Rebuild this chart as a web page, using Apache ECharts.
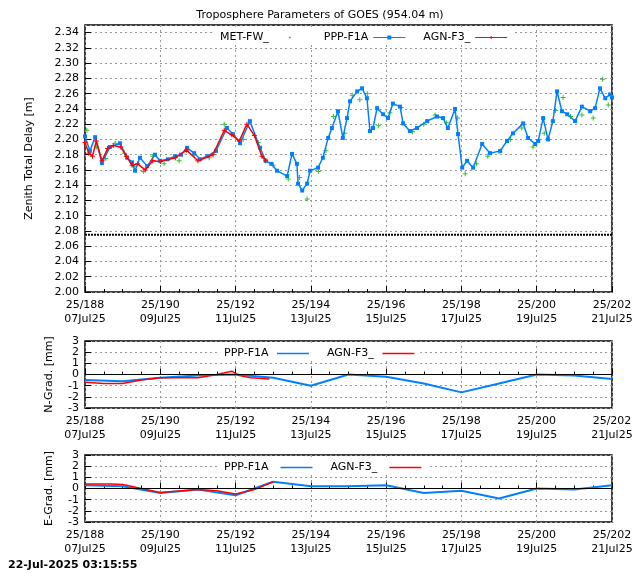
<!DOCTYPE html>
<html><head><meta charset="utf-8">
<script src="https://cdn.jsdelivr.net/npm/echarts@6/dist/echarts.min.js"></script>
<style>html,body{margin:0;padding:0;background:#fff}#c{width:640px;height:576px}</style>
</head><body><div id="c"></div>
<script>
const xTickLabels = {188:'25/188\n07Jul25',190:'25/190\n09Jul25',192:'25/192\n11Jul25',194:'25/194\n13Jul25',196:'25/196\n15Jul25',198:'25/198\n17Jul25',200:'25/200\n19Jul25',202:'25/202\n21Jul25'};
const pppDays = [188.0,188.13,188.27,188.45,188.66,188.93,189.12,189.25,189.33,189.46,189.65,189.86,189.99,190.2,190.39,190.55,190.71,190.9,191.06,191.25,191.48,191.77,191.93,192.12,192.38,192.65,192.8,192.95,193.10,193.37,193.50,193.63,193.66,193.77,193.90,193.98,194.19,194.32,194.46,194.56,194.72,194.85,194.96,195.04,195.23,195.36,195.49,195.57,195.65,195.76,195.92,196.05,196.18,196.37,196.45,196.63,196.82,197.09,197.35,197.51,197.64,197.83,197.91,198.02,198.15,198.31,198.55,198.76,199.03,199.21,199.37,199.64,199.77,199.96,200.04,200.17,200.30,200.43,200.54,200.67,200.81,201.02,201.20,201.42,201.55,201.68,201.82,201.95,202.0];
const pppZtd = [2.204,2.185,2.203,2.169,2.19,2.195,2.176,2.17,2.159,2.176,2.165,2.18,2.172,2.174,2.178,2.18,2.189,2.182,2.174,2.178,2.185,2.215,2.207,2.195,2.224,2.189,2.172,2.168,2.159,2.152,2.181,2.168,2.142,2.133,2.142,2.159,2.163,2.176,2.202,2.215,2.237,2.202,2.228,2.25,2.263,2.267,2.254,2.211,2.215,2.241,2.233,2.228,2.247,2.243,2.221,2.211,2.215,2.224,2.23,2.228,2.215,2.24,2.207,2.163,2.172,2.163,2.194,2.182,2.185,2.198,2.208,2.221,2.202,2.194,2.198,2.228,2.2,2.224,2.263,2.237,2.233,2.224,2.243,2.237,2.241,2.267,2.254,2.259,2.255];
const agnDays = [188.0,188.1,188.2,188.3,188.45,188.6,188.75,188.95,189.1,189.25,189.4,189.6,189.8,190.0,190.4,190.7,191.0,191.4,191.7,191.9,192.1,192.3,192.5,192.7,192.8];
const agnZtd = [2.196,2.182,2.178,2.198,2.172,2.188,2.192,2.19,2.178,2.166,2.168,2.16,2.172,2.171,2.176,2.186,2.172,2.18,2.212,2.206,2.198,2.22,2.205,2.178,2.172];
const metDays = [188.05,188.3,188.55,188.8,189.05,189.3,189.55,189.8,190.1,190.5,190.9,191.3,191.7,192.2,192.6,193.0,193.4,193.7,193.9,194.2,194.4,194.6,194.9,195.1,195.3,195.5,195.8,196.1,196.4,196.7,197.0,197.3,197.6,197.9,198.1,198.4,198.7,199.0,199.3,199.6,199.9,200.2,200.5,200.7,200.9,201.2,201.5,201.75,201.9];
const metZtd = [2.212,2.19,2.175,2.195,2.182,2.165,2.158,2.178,2.168,2.172,2.18,2.176,2.22,2.2,2.196,2.166,2.148,2.15,2.122,2.158,2.185,2.23,2.208,2.258,2.252,2.26,2.218,2.235,2.242,2.21,2.22,2.232,2.222,2.228,2.155,2.168,2.178,2.184,2.2,2.215,2.19,2.208,2.238,2.255,2.23,2.232,2.228,2.279,2.245];
const refLevelDays = [188,202];
const refLevel = [2.075,2.075];
const nDays = [188,189,190,191,192,193,194,195,196,197,198,199,200,201,202];
const pppN = [-0.5,-0.6,-0.3,-0.1,0.0,-0.3,-1.0,0.0,-0.2,-0.8,-1.6,-0.8,0.0,-0.1,-0.4];
const agnNDays = [188,188.5,189,189.5,190,191,191.5,191.9,192.1,192.4,192.9];
const agnN = [-0.7,-0.8,-0.8,-0.5,-0.3,-0.3,0.0,0.3,-0.1,-0.3,-0.4];
const pppE = [0.3,0.2,-0.4,-0.1,-0.6,0.6,0.2,0.2,0.3,-0.4,-0.2,-0.9,0.0,-0.1,0.3];
const agnEDays = [188,188.7,189,189.5,190,191,191.5,192,192.5,193];
const agnE = [0.4,0.4,0.35,0.0,-0.35,-0.1,-0.2,-0.5,-0.1,0.6];

const zip = (a,b)=>a.map((v,i)=>[v,b[i]]);
const F = 'DejaVu Sans';
const grids = [
  {left:85,right:28,top:25,height:267},
  {left:85,right:28,top:341,height:67},
  {left:85,right:28,top:455,height:67}
].map(g=>Object.assign(g,{show:true,borderColor:'#000',borderWidth:1.5,containLabel:false}));
function xAx(i){return {type:'value',gridIndex:i,min:188,max:202,interval:2,
  axisLine:{show:false},axisTick:{inside:true,length:6,lineStyle:{color:'#000'}},
  minorTick:{show:true,splitNumber:4,length:3,lineStyle:{color:'#000'}},
  splitLine:{show:true,lineStyle:{color:'#999',type:[2,3]}},
  axisLabel:{color:'#000',fontFamily:F,fontSize:11,lineHeight:14,margin:6,formatter:v=>xTickLabels[v]||''}};}
function yAx(i,min,max,intv,name,gap,fmt){return {type:'value',gridIndex:i,min,max,interval:intv,
  name,nameLocation:'middle',nameGap:gap,nameTextStyle:{color:'#000',fontFamily:F,fontSize:11},
  axisLine:{show:false},axisTick:{inside:true,length:6,lineStyle:{color:'#000'}},
  splitLine:{show:true,lineStyle:{color:'#999',type:[2,3]}},
  axisLabel:{color:'#000',fontFamily:F,fontSize:11,margin:6,showMaxLabel:max!==2.35,formatter:fmt}};}
const zeroLine = {silent:true,symbol:'none',label:{show:false},lineStyle:{color:'#000',type:'solid',width:1},data:[{yAxis:0}]};
const lineIcon = 'path://M0,0L0,0M32,10L32,10M0,4.2H32V5.8H0Z';
const sqIcon = 'path://M0,4.5H14V3H18V4.5H32V5.5H18V7H14V5.5H0Z';
const plusIcon = 'path://M0,4.5H15.5V3.5H16.5V4.5H32V5.5H16.5V6.5H15.5V5.5H0Z';
const metIcon = 'path://M0,0L0,0M32,10L32,10M15.5,4H16.5V4.5H17V5.5H16.5V6H15.5V5.5H15V4.5H15.5Z';
const lg = (top,left,data)=>({top,left,itemWidth:32,itemHeight:10,align:'right',itemGap:18,textStyle:{fontFamily:F,fontSize:11,color:'#000'},backgroundColor:'#fff',padding:[2,6],data});
const option = {
  animation:false,
  title:{text:'Troposphere Parameters of GOES (954.04 m)',left:'center',top:5,textStyle:{fontFamily:F,fontSize:11,fontWeight:'normal',color:'#000'}},
  graphic:[{type:'text',left:8,top:560,style:{text:'22-Jul-2025 03:15:55',font:'bold 11px "DejaVu Sans"',fill:'#000'}}],
  grid:grids,
  legend:[
    lg(30,214,[{name:'MET-FW_',icon:metIcon,itemStyle:{color:'#00b000'}},{name:'PPP-F1A',icon:sqIcon,itemStyle:{color:'#0080ff'}},{name:'AGN-F3_',icon:plusIcon,itemStyle:{color:'#ff0000'}}]),
    lg(346,218,[{name:'PPP-F1A ',icon:lineIcon,itemStyle:{color:'#0080ff'}},{name:'AGN-F3_ ',icon:lineIcon,itemStyle:{color:'#ff0000'}}]),
    lg(460,218,[{name:'PPP-F1A  ',icon:lineIcon,itemStyle:{color:'#0080ff'}},{name:'AGN-F3_  ',icon:lineIcon,itemStyle:{color:'#ff0000'}}])
  ],
  xAxis:[xAx(0),xAx(1),xAx(2)],
  yAxis:[
    yAx(0,2.00,2.35,0.02,'Zenith Total Delay [m]',50,v=>v.toFixed(2)),
    yAx(1,-3,3,1,'N-Grad. [mm]',30,v=>String(v)),
    yAx(2,-3,3,1,'E-Grad. [mm]',30,v=>String(v))
  ],
  series:[
    {name:'ref',type:'line',xAxisIndex:0,yAxisIndex:0,data:zip(refLevelDays,refLevel),symbol:'none',lineStyle:{color:'#000',width:2,type:[2,1]}},
    {name:'MET-FW_',type:'scatter',xAxisIndex:0,yAxisIndex:0,data:zip(metDays,metZtd),symbol:'path://M4,0H6V4H10V6H6V10H4V6H0V4H4Z',symbolSize:5,itemStyle:{color:'#00b000'},z:3},
    {name:'PPP-F1A',type:'line',xAxisIndex:0,yAxisIndex:0,data:zip(pppDays,pppZtd),symbol:'rect',symbolSize:4,itemStyle:{color:'#0080ff'},lineStyle:{color:'#0080ff',width:1.5},z:4},
    {name:'AGN-F3_',type:'line',xAxisIndex:0,yAxisIndex:0,data:zip(agnDays,agnZtd),symbol:'path://M4,0H6V4H10V6H6V10H4V6H0V4H4Z',symbolSize:5,itemStyle:{color:'#ff0000'},lineStyle:{color:'#ff0000',width:1.5},z:5},
    {name:'PPP-F1A ',type:'line',xAxisIndex:1,yAxisIndex:1,data:zip(nDays,pppN),symbol:'none',itemStyle:{color:'#0080ff'},lineStyle:{color:'#0080ff',width:2},markLine:zeroLine,z:3},
    {name:'AGN-F3_ ',type:'line',xAxisIndex:1,yAxisIndex:1,data:zip(agnNDays,agnN),symbol:'none',itemStyle:{color:'#ff0000'},lineStyle:{color:'#ff0000',width:1.5},z:4},
    {name:'PPP-F1A  ',type:'line',xAxisIndex:2,yAxisIndex:2,data:zip(nDays,pppE),symbol:'none',itemStyle:{color:'#0080ff'},lineStyle:{color:'#0080ff',width:2},markLine:zeroLine,z:3},
    {name:'AGN-F3_  ',type:'line',xAxisIndex:2,yAxisIndex:2,data:zip(agnEDays,agnE),symbol:'none',itemStyle:{color:'#ff0000'},lineStyle:{color:'#ff0000',width:1.5},z:4}
  ]
};
const chart = echarts.init(document.getElementById('c'),null,{renderer:'canvas'});
chart.setOption(option);
</script></body></html>
